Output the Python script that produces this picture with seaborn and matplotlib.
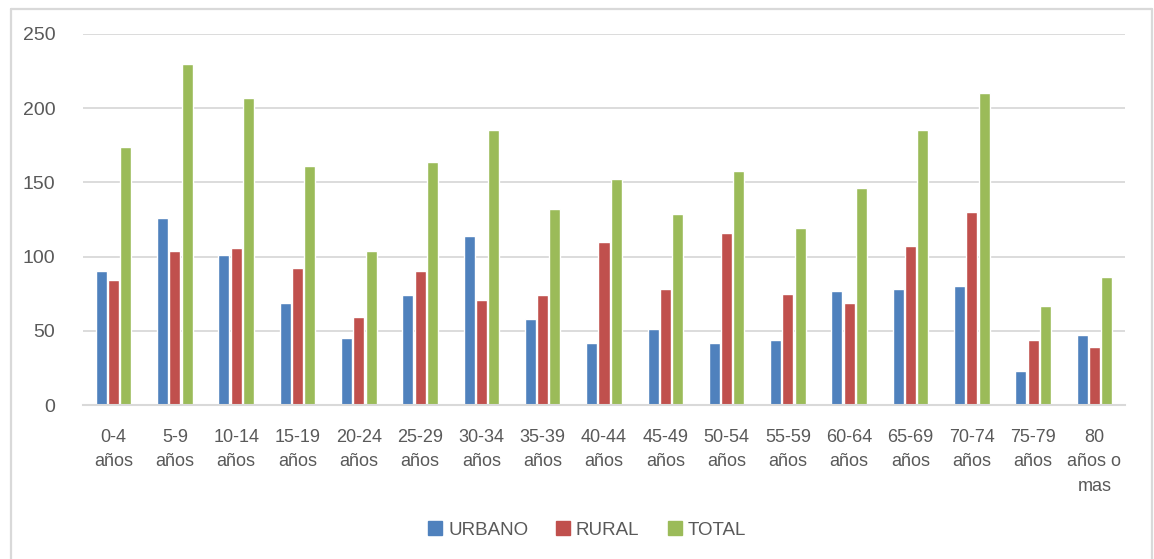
import matplotlib
matplotlib.use("Agg")
import matplotlib.pyplot as plt
from matplotlib.lines import Line2D
from matplotlib import font_manager
import seaborn as sns
import pandas as pd

# Grupos de edad y población por área
grupos = ["0-4\naños", "5-9\naños", "10-14\naños", "15-19\naños", "20-24\naños",
          "25-29\naños", "30-34\naños", "35-39\naños", "40-44\naños", "45-49\naños",
          "50-54\naños", "55-59\naños", "60-64\naños", "65-69\naños", "70-74\naños",
          "75-79\naños", "80\naños o\nmas"]
urbano = [90, 126, 101, 69, 45, 74, 114, 58, 42, 51, 42, 44, 77, 78, 80, 23, 47]
rural = [84, 104, 106, 92, 59, 90, 71, 74, 110, 78, 116, 75, 69, 107, 130, 44, 39]
total = [174, 230, 207, 161, 104, 164, 185, 132, 152, 129, 158, 119, 146, 185, 210, 67, 86]
series = ["URBANO", "RURAL", "TOTAL"]
colores = ["#4F81BD", "#C0504D", "#9BBB59"]
yticks = [0, 50, 100, 150, 200, 250]

df = pd.DataFrame({
    "grupo": grupos * 3,
    "valor": urbano + rural + total,
    "serie": [series[0]] * len(grupos) + [series[1]] * len(grupos) + [series[2]] * len(grupos),
})

sns.set_theme(style="white")
nombres = {f.name for f in font_manager.fontManager.ttflist}
familia = ["Liberation Sans Narrow", "DejaVu Sans"] if "Liberation Sans Narrow" in nombres else ["Liberation Sans", "DejaVu Sans"]
plt.rcParams["font.family"] = familia

gris_texto = "#595959"
gris_linea = "#D9D9D9"

fig = plt.figure(figsize=(11.54, 5.59), dpi=100)
W, H = 1154, 559
ax = fig.add_axes([83 / W, (H - 405) / H, (1125 - 83) / W, (405 - 34) / H])

sns.barplot(data=df, x="grupo", y="valor", hue="serie", palette=colores,
            width=0.6, gap=0.1, saturation=1, ax=ax, legend=False)

ax.set_ylim(0, 250)
ax.set_xlim(-0.5, len(grupos) - 0.5)
ax.set_yticks(yticks)
ax.yaxis.grid(True, color=gris_linea, linewidth=1.3)
ax.set_axisbelow(True)
for s in ["top", "right", "left"]:
    ax.spines[s].set_visible(False)
ax.spines["bottom"].set_color(gris_linea)
ax.spines["bottom"].set_linewidth(1.5)
ax.set_xlabel("")
ax.set_ylabel("")
ax.tick_params(axis="x", length=0, labelsize=13, colors=gris_texto, pad=17)
ax.tick_params(axis="y", length=0, labelsize=14, colors=gris_texto, pad=20)
for lbl in ax.get_xticklabels():
    lbl.set_linespacing(1.6)
    lbl.set_verticalalignment("top")

# Marco del gráfico
marco = dict(color=gris_linea, linewidth=1.6, transform=fig.transFigure)
fig.add_artist(Line2D([11 / W, 11 / W], [0, (H - 9) / H], **marco))
fig.add_artist(Line2D([11 / W, 1152 / W], [(H - 9) / H, (H - 9) / H], **marco))
fig.add_artist(Line2D([1152 / W, 1152 / W], [0, (H - 9) / H], **marco))

handles = [plt.Rectangle((0, 0), 1, 1, color=c) for c in colores]
leg = fig.legend(handles, series, loc="center", bbox_to_anchor=(587 / W, (H - 530) / H),
                 ncol=3, frameon=False, fontsize=13.5, handlelength=0.75, handleheight=0.75,
                 handletextpad=0.3, columnspacing=1.5)
for t in leg.get_texts():
    t.set_color(gris_texto)

fig.savefig("out.png", dpi=100, facecolor="white")
